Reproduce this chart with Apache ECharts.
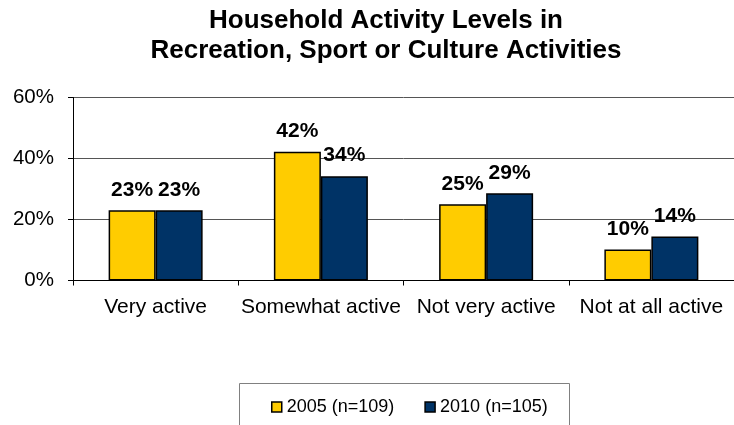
<!DOCTYPE html>
<html>
<head>
<meta charset="utf-8">
<script src="https://cdn.jsdelivr.net/npm/echarts@6/dist/echarts.min.js"></script>
<style>
html,body{margin:0;padding:0;background:#fff;}
#chart{width:734px;height:425px;}
</style>
</head>
<body>
<div id="chart"></div>
<script>
var titleText = 'Household Activity Levels in\nRecreation, Sport or Culture Activities';
var categories = ['Very active', 'Somewhat active', 'Not very active', 'Not at all active'];
var seriesNames = ['2005 (n=109)', '2010 (n=105)'];
var values2005 = [23, 42.2, 25, 10.2];
var values2010 = [23, 34.2, 28.6, 14.4];
var yTicks = [0, 20, 40, 60];

var chart = echarts.init(document.getElementById('chart'), null, {renderer: 'canvas'});
var FONT = '"Liberation Sans", Arial, Helvetica, sans-serif';
var labelStyle = {
  show: true, position: 'top', distance: 10,
  fontFamily: FONT, fontSize: 21, fontWeight: 'bold', color: '#000',
  formatter: function (p) { return Math.round(p.value) + '%'; }
};
chart.setOption({
  animation: false,
  backgroundColor: '#fff',
  title: {
    text: titleText, left: 381, textAlign: 'center', top: 1,
    textStyle: {fontFamily: FONT, fontSize: 26, fontWeight: 'bold', color: '#000', lineHeight: 30}
  },
  graphic: [{
    type: 'rect', left: 239, top: 383,
    shape: {width: 330, height: 60},
    style: {fill: '#fff', stroke: '#808080', lineWidth: 1},
    z: 0
  }],
  legend: {
    data: seriesNames, left: 266, top: 393,
    itemWidth: 10, itemHeight: 10, itemGap: 30, icon: 'rect',
    textStyle: {fontFamily: FONT, fontSize: 18, color: '#000'},
    itemStyle: {borderColor: '#000', borderWidth: 1.5},
    z: 5
  },
  grid: {left: 73, top: 97.5, width: 666, height: 183, containLabel: false},
  xAxis: {
    type: 'category', data: categories,
    axisLine: {lineStyle: {color: '#000', width: 1}},
    axisTick: {show: true, alignWithLabel: false, length: 5, lineStyle: {color: '#000'}},
    axisLabel: {fontFamily: FONT, fontSize: 21, color: '#000', margin: 16, interval: 0}
  },
  yAxis: {
    type: 'value', min: yTicks[0], max: yTicks[yTicks.length - 1], interval: 20,
    axisLine: {show: true, lineStyle: {color: '#000', width: 1}},
    axisTick: {show: true, length: 5, lineStyle: {color: '#000'}},
    axisLabel: {fontFamily: FONT, fontSize: 20.5, color: '#000', margin: 19, formatter: '{value}%'},
    splitLine: {show: true, lineStyle: {color: '#555', width: 1}}
  },
  series: [
    {
      name: seriesNames[0], type: 'bar', data: values2005, barWidth: 47, barGap: '0%',
      itemStyle: {color: '#FFCC00', borderColor: '#000', borderWidth: 1.5},
      label: labelStyle
    },
    {
      name: seriesNames[1], type: 'bar', data: values2010, barWidth: 47, barGap: '0%',
      itemStyle: {color: '#003366', borderColor: '#000', borderWidth: 1.5},
      label: labelStyle
    }
  ]
});
</script>
</body>
</html>
